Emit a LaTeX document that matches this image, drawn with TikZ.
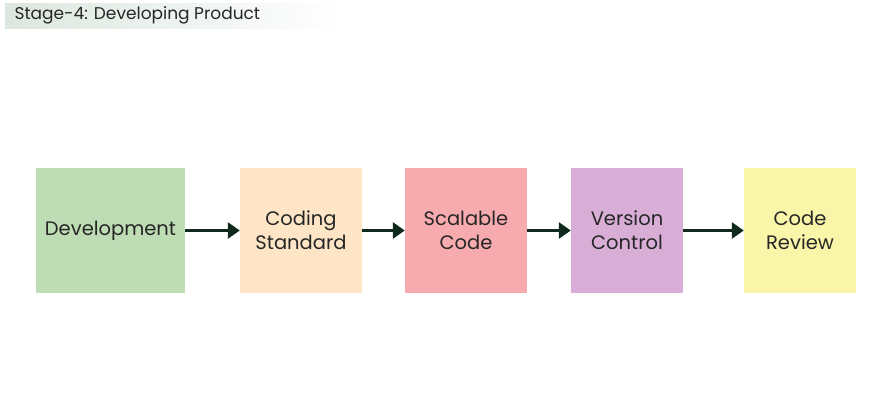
\documentclass[tikz,border=0pt]{standalone}
\usepackage{fontspec}
\setmainfont{Poppins}
\usetikzlibrary{arrows.meta}
\definecolor{devgreen}{HTML}{BFDDB4}
\definecolor{codpeach}{HTML}{FDE5C6}
\definecolor{scapink}{HTML}{F7ABAE}
\definecolor{verpurple}{HTML}{D8AED6}
\definecolor{revyellow}{HTML}{F9F5A9}
\definecolor{arrowgreen}{HTML}{0F2A1C}
\definecolor{titlegray}{HTML}{DCE7DF}
\tikzset{
  stagebox/.style={minimum height=125pt, inner sep=0pt, align=center, font=\fontsize{19.5}{24}\selectfont, text=black!85},
  flowarrow/.style={-{Triangle[length=12pt,width=16pt]}, arrowgreen, line width=2.8pt}
}
\begin{document}
\begin{tikzpicture}[x=1pt,y=-1pt]
            \useasboundingbox (0,0) rectangle (870,402);
            % Title bar
            \shade[left color=titlegray, right color=white] (5,3) rectangle (345,28);
            \node[anchor=west, font=\fontsize{17}{20}\selectfont, text=black!85] (title) at (11,15.5) {Stage-4: Developing Product};

            % The five stage boxes
            \node[stagebox, fill=devgreen, minimum width=149pt] (dev) at (110.5,230.5) {Development};
            \node[stagebox, fill=codpeach, minimum width=122pt] (cod) at (301,230.5) {Coding\\Standard};
            \node[stagebox, fill=scapink, minimum width=122pt] (sca) at (466,230.5) {Scalable\\Code};
            \node[stagebox, fill=verpurple, minimum width=112pt] (ver) at (627,230.5) {Version\\Control};
            \node[stagebox, fill=revyellow, minimum width=112pt] (rev) at (800,230.5) {Code\\Review};

            % Connect the boxes
            \draw[flowarrow] (dev) -- (cod);
            \draw[flowarrow] (cod) -- (sca);
            \draw[flowarrow] (sca) -- (ver);
            \draw[flowarrow] (ver) -- (rev);
        \end{tikzpicture}
\end{document}
